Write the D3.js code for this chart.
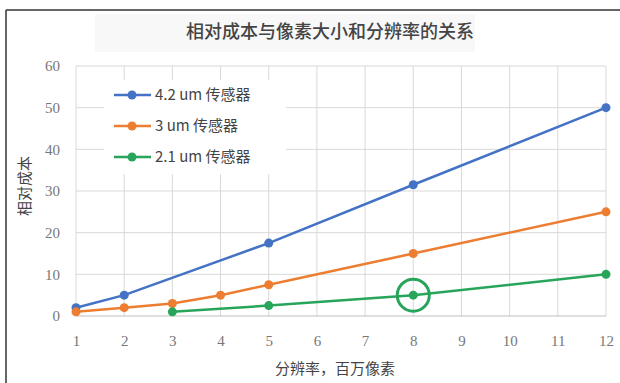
<!DOCTYPE html>
<html>
<head>
<meta charset="utf-8">
<script src="https://cdn.jsdelivr.net/npm/d3@7"></script>
<style>
  body { margin: 0; background: #fff; }
  svg { display: block; }
</style>
</head>
<body>
<div id="chart"></div>
<script>
// data
var resolution = [1, 2, 3, 4, 5, 6, 7, 8, 9, 10, 11, 12];
var yTicks = [0, 10, 20, 30, 40, 50, 60];
var seriesNames = ["4.2 um 传感器", "3 um 传感器", "2.1 um 传感器"];
var seriesColors = ["#4472c4", "#ed7d31", "#27a55a"];
var x42 = [1, 2, 5, 8, 12];
var y42 = [2, 5, 17.5, 31.5, 50];
var x30 = [1, 2, 3, 4, 5, 8, 12];
var y30 = [1, 2, 3, 5, 7.5, 15, 25];
var x21 = [3, 5, 8, 12];
var y21 = [1, 2.5, 5, 10];
var highlight = { x: 8, y: 5 };

var width = 620, height = 383;
var margin = { left: 76, right: 14, top: 66, bottom: 67 };

var svg = d3.select("#chart").append("svg")
  .attr("width", width).attr("height", height);

// frame (only top and left edges show)
svg.append("line").attr("x1", 6).attr("x2", width).attr("y1", 10).attr("y2", 10)
  .attr("stroke", "#333").attr("stroke-width", 1.5);
svg.append("line").attr("x1", 6).attr("x2", 6).attr("y1", 10).attr("y2", height)
  .attr("stroke", "#333").attr("stroke-width", 1.5);

// title with its pale panel
svg.append("rect").attr("x", 95).attr("y", 14).attr("width", 380).attr("height", 38)
  .attr("fill", "#f8f8f8");
svg.append("text")
  .attr("x", 330).attr("y", 38)
  .attr("text-anchor", "middle")
  .style("font-family", "'Noto Sans CJK SC', sans-serif")
  .style("font-size", "18px")
  .style("font-weight", "500")
  .style("fill", "#444")
  .text("相对成本与像素大小和分辨率的关系");

var x = d3.scaleLinear().domain([1, 12]).range([margin.left, width - margin.right]);
var y = d3.scaleLinear().domain([0, 60]).range([height - margin.bottom, margin.top]);

// grid
var grid = svg.append("g");
grid.selectAll(".vg").data(resolution).enter().append("line")
  .attr("x1", function (d) { return x(d); }).attr("x2", function (d) { return x(d); })
  .attr("y1", y(0)).attr("y2", y(60))
  .attr("stroke", "#d9d9d9").attr("stroke-width", 1);
grid.selectAll(".hg").data(yTicks).enter().append("line")
  .attr("x1", x(1)).attr("x2", x(12))
  .attr("y1", function (d) { return y(d); }).attr("y2", function (d) { return y(d); })
  .attr("stroke", function (d) { return d === 0 ? "#bfbfbf" : "#d9d9d9"; })
  .attr("stroke-width", 1);

// axes (labels only)
var xAxis = svg.append("g").attr("transform", "translate(0," + (y(0) + 16) + ")")
  .call(d3.axisBottom(x).tickValues(resolution).tickSize(0).tickFormat(d3.format("d")));
var yAxis = svg.append("g").attr("transform", "translate(" + (margin.left - 13) + ",0)")
  .call(d3.axisLeft(y).tickValues(yTicks).tickSize(0));
[xAxis, yAxis].forEach(function (a) {
  a.select(".domain").remove();
  a.selectAll("text")
    .style("font-family", "'Liberation Serif', serif")
    .style("font-size", "15px")
    .style("fill", "#777");
});

// axis titles
svg.append("text")
  .attr("x", 335).attr("y", 374)
  .attr("text-anchor", "middle")
  .style("font-family", "'Noto Sans CJK SC', sans-serif")
  .style("font-size", "15px")
  .style("fill", "#444")
  .text("分辨率，百万像素");
svg.append("text")
  .attr("transform", "translate(30,186) rotate(-90)")
  .attr("text-anchor", "middle")
  .style("font-family", "'Noto Sans CJK SC', sans-serif")
  .style("font-size", "15px")
  .style("fill", "#444")
  .text("相对成本");

// legend background hides grid
svg.append("rect").attr("x", 104).attr("y", 80).attr("width", 182).attr("height", 94)
  .attr("fill", "#fff");

var series = [
  { xs: x42, ys: y42 },
  { xs: x30, ys: y30 },
  { xs: x21, ys: y21 }
];

var line = d3.line()
  .x(function (d) { return x(d[0]); })
  .y(function (d) { return y(d[1]); });

series.forEach(function (s, i) {
  var pts = s.xs.map(function (v, j) { return [v, s.ys[j]]; });
  var g = svg.append("g");
  g.append("path").datum(pts)
    .attr("d", line)
    .attr("fill", "none")
    .attr("stroke", seriesColors[i])
    .attr("stroke-width", 2.5);
  g.selectAll("circle").data(pts).enter().append("circle")
    .attr("cx", function (d) { return x(d[0]); })
    .attr("cy", function (d) { return y(d[1]); })
    .attr("r", 4.5)
    .attr("fill", seriesColors[i]);
});

// highlight ring
svg.append("circle")
  .attr("cx", x(highlight.x)).attr("cy", y(highlight.y))
  .attr("r", 16)
  .attr("fill", "none")
  .attr("stroke", seriesColors[2])
  .attr("stroke-width", 3);

// legend
var legend = svg.append("g");
seriesNames.forEach(function (name, i) {
  var ly = 95 + i * 31;
  legend.append("line").attr("x1", 114).attr("x2", 151).attr("y1", ly).attr("y2", ly)
    .attr("stroke", seriesColors[i]).attr("stroke-width", 2.5);
  legend.append("circle").attr("cx", 132).attr("cy", ly).attr("r", 4.5)
    .attr("fill", seriesColors[i]);
  legend.append("text")
    .attr("x", 155).attr("y", ly + 5)
    .style("font-family", "'Noto Sans CJK SC', sans-serif")
    .style("font-size", "15px")
    .style("fill", "#444")
    .text(name);
});
</script>
</body>
</html>
